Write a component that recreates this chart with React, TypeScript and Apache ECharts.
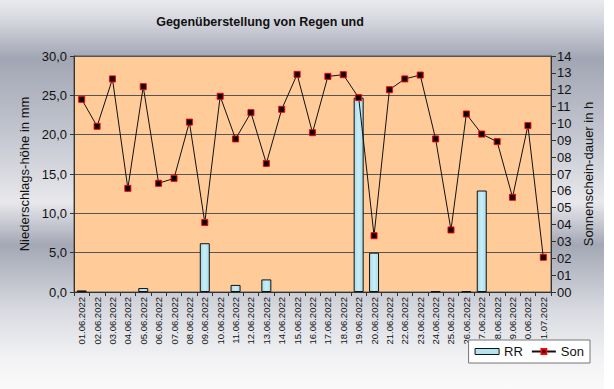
import React, { useEffect, useRef } from "react";
import * as echarts from "echarts";

const days: string[] = [
  "01.06.2022","02.06.2022","03.06.2022","04.06.2022","05.06.2022","06.06.2022","07.06.2022","08.06.2022",
  "09.06.2022","10.06.2022","11.06.2022","12.06.2022","13.06.2022","14.06.2022","15.06.2022","16.06.2022",
  "17.06.2022","18.06.2022","19.06.2022","20.06.2022","21.06.2022","22.06.2022","23.06.2022","24.06.2022",
  "25.06.2022","26.06.2022","27.06.2022","28.06.2022","29.06.2022","30.06.2022","01.07.2022",
];

// Niederschlagshöhe (mm)
const rr: number[] = [
  0.2, 0, 0, 0, 0.5, 0, 0, 0, 6.2, 0, 0.9, 0, 1.6, 0, 0, 0,
  0, 0, 24.7, 5.0, 0, 0, 0, 0.1, 0, 0.1, 12.9, 0, 0, 0, 0,
];

// Sonnenscheindauer (h)
const son: number[] = [
  11.43, 9.83, 12.64, 6.15, 12.18, 6.45, 6.74, 10.08, 4.12, 11.61, 9.08, 10.64, 7.63, 10.84, 12.91, 9.45,
  12.79, 12.89, 11.53, 3.34, 12.0, 12.64, 12.87, 9.08, 3.68, 10.56, 9.37, 8.92, 5.62, 9.87, 2.06,
];

const title = "Gegenüberstellung von Regen und";
const leftName = "Niederschlags-höhe in mm";
const rightName = "Sonnenschein-dauer in h";

const FONT = "'Liberation Sans', Arial, sans-serif";

export default function App() {
  const ref = useRef<HTMLDivElement>(null);
  useEffect(() => {
    if (!ref.current) return;
    const chart = echarts.init(ref.current, null, { renderer: "svg" });
    chart.setOption({
      animation: false,
      textStyle: { fontFamily: FONT, color: "#111" },
      graphic: [
        {
          type: "rect",
          z: -10,
          silent: true,
          shape: { x: 0, y: 0, width: 604, height: 389 },
          style: {
            fill: new echarts.graphic.LinearGradient(0, 0, 0, 1, [
              { offset: 0, color: "#eaeaee" },
              { offset: 0.05, color: "#d6d8df" },
              { offset: 0.15, color: "#a2a6b4" },
              { offset: 0.35, color: "#c4c7d0" },
              { offset: 0.52, color: "#e8e8ec" },
              { offset: 0.63, color: "#a4a8b5" },
              { offset: 0.8, color: "#d9dbe1" },
              { offset: 0.92, color: "#f2f2f4" },
              { offset: 1, color: "#fafafa" },
            ]),
          },
        },
      ],
      title: {
        text: title,
        left: 255,
        top: 10,
        textAlign: "center",
        textStyle: { fontSize: 12.5, fontWeight: "bold", color: "#111", fontFamily: FONT },
      },
      legend: {
        right: 24,
        top: 340,
        itemGap: 8,
        padding: [5, 6, 5, 6],
        backgroundColor: "#ffffff",
        borderColor: "#777",
        borderWidth: 1,
        borderRadius: 0,
        textStyle: { fontSize: 13, color: "#111", fontFamily: FONT },
        data: [
          { name: "RR", icon: "rect", itemStyle: { color: "#b4e4f0", borderColor: "#111", borderWidth: 1 } },
          { name: "Son" },
        ],
        itemWidth: 24,
        itemHeight: 6,
      },
      grid: {
        left: 74,
        right: 63,
        top: 56,
        bottom: 97,
        show: true,
        backgroundColor: "#ffcc99",
        borderColor: "#555",
        borderWidth: 1,
      },
      xAxis: {
        type: "category",
        data: days,
        boundaryGap: true,
        axisLine: { lineStyle: { color: "#333" } },
        axisTick: { show: true, length: 4, lineStyle: { color: "#333" } },
        axisLabel: { rotate: 90, fontSize: 9.5, color: "#111", margin: 5, interval: 0, fontFamily: FONT },
      },
      yAxis: [
        {
          type: "value",
          min: 0,
          max: 30,
          interval: 5,
          name: leftName,
          nameLocation: "middle",
          nameRotate: 90,
          nameGap: 40,
          nameTextStyle: { fontSize: 13, color: "#111", fontFamily: FONT },
          axisLine: { show: true, lineStyle: { color: "#333" } },
          axisTick: { show: true, length: 4, lineStyle: { color: "#333" } },
          axisLabel: {
            fontSize: 13,
            color: "#111",
            margin: 7,
            fontFamily: FONT,
            formatter: (v: number) => v.toFixed(1).replace(".", ","),
          },
          splitLine: { show: true, lineStyle: { color: "#555", width: 1 } },
        },
        {
          type: "value",
          min: 0,
          max: 14,
          interval: 1,
          name: rightName,
          nameLocation: "middle",
          nameRotate: 90,
          nameGap: 30,
          nameTextStyle: { fontSize: 13, color: "#111", fontFamily: FONT },
          position: "right",
          axisLine: { show: true, lineStyle: { color: "#333" } },
          axisTick: { show: true, length: 5, lineStyle: { color: "#333" } },
          axisLabel: {
            fontSize: 13,
            color: "#111",
            margin: 6,
            fontFamily: FONT,
            formatter: (v: number) => String(v).padStart(2, "0"),
          },
          splitLine: { show: false },
        },
      ],
      series: [
        {
          name: "RR",
          type: "bar",
          yAxisIndex: 0,
          data: rr.map((v) => (v === 0 ? null : v)),
          barWidth: 10,
          itemStyle: {
            color: new echarts.graphic.LinearGradient(0, 0, 1, 0, [
              { offset: 0, color: "#a6dcea" },
              { offset: 0.5, color: "#c9eef7" },
              { offset: 1, color: "#a6dcea" },
            ]),
            borderColor: "#111",
            borderWidth: 1,
          },
        },
        {
          name: "Son",
          type: "line",
          yAxisIndex: 1,
          data: son,
          symbol: "rect",
          symbolSize: 6,
          lineStyle: { color: "#111", width: 1 },
          itemStyle: { color: "#000", borderColor: "#ff0000", borderWidth: 1 },
          z: 5,
        },
      ],
    });
    return () => chart.dispose();
  }, []);
  return (
    <div
      ref={ref}
      style={{ position: "fixed", left: 0, top: 0, width: 614, height: 389, background: "#ffffff" }}
    />
  );
}
